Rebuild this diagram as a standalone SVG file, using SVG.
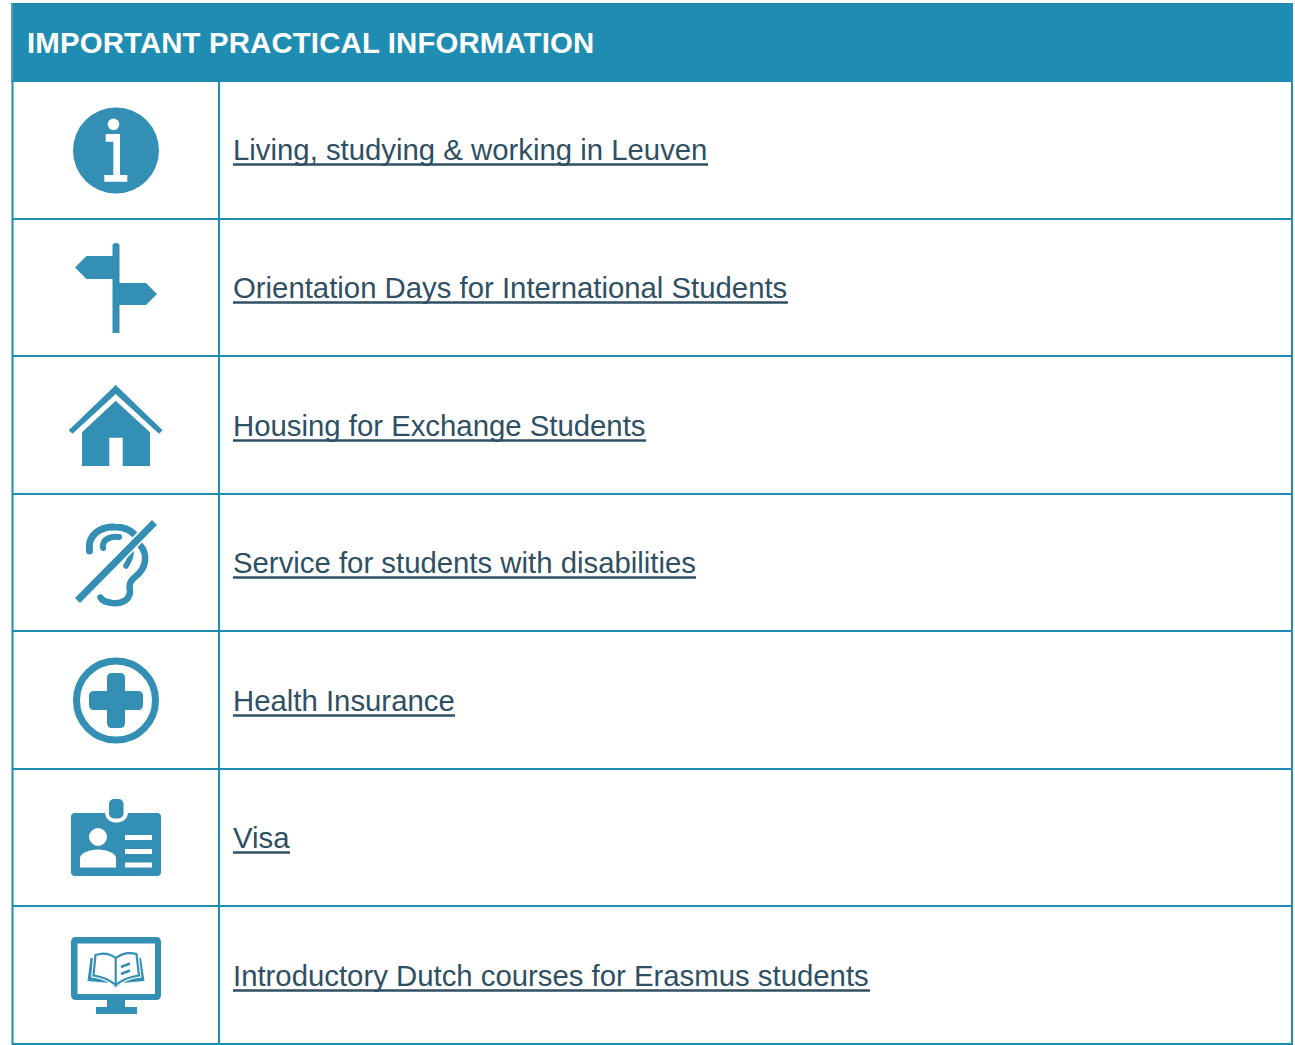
<svg xmlns="http://www.w3.org/2000/svg" width="1295" height="1045" viewBox="0 0 1295 1045">
<style>
.g{stroke:#1f8db2;stroke-width:2;fill:none}
.i{fill:#338fb3}
.w{fill:#fff}
.s{fill:none;stroke:#338fb3;stroke-linecap:round}
.b{fill:none;stroke:#338fb3;stroke-linecap:butt}
.t{font-family:"Liberation Sans",Arial,sans-serif;font-size:29.33px;fill:#2f4f63}
.u{stroke:#2f4f63;stroke-width:2.6}
.h{font-family:"Liberation Sans",Arial,sans-serif;font-size:29.33px;font-weight:bold;fill:#fff;letter-spacing:.17px}
</style>
<rect width="1295" height="1045" fill="#fff"/>
<g id="table">
<rect x="11" y="3" width="1282" height="79" fill="#1f8db2"/>
<rect x="11" y="4" width="2" height="77" fill="#5a9ac8"/>
<path class="g" d="M12.500 81V1044H1292V81M219 81V1044M12 219H1292M12 356H1292M12 494H1292M12 631H1292M12 769H1292M12 906H1292"/>
<text class="h" x="27" y="52.500">IMPORTANT PRACTICAL INFORMATION</text>
</g>
<g id="row-info">
<circle class="i" cx="116" cy="150.500" r="43"/>
<circle class="w" cx="113.500" cy="124.300" r="5.800"/>
<path class="w" d="M105.700 134H120V175H127.300V181.700H104.300V175H113.300V141.700H105.700Z"/>
<text class="t" x="233" y="160">Living, studying &amp; working in Leuven</text>
<path class="u" d="M233 164.500H708"/>
</g>
<g id="row-orientation">
<path class="i" d="M112.500 333V245.500Q112.500 243 116 243Q119.500 243 119.500 245.500V283H146L157 294L146 305H119.500V333ZM112.500 256V279H86.500L75 267.500L86.500 256Z"/>
<text class="t" x="233" y="298">Orientation Days for International Students</text>
<path class="u" d="M233 302.500H788"/>
</g>
<g id="row-housing">
<path class="i" d="M115.700 385L162.700 430.300L159 433.700L115.700 394L72.500 433.700L68.700 430.300Z"/>
<path class="i" d="M115.700 400.700L150 432.300V466H122.700V437.700H109.300V466H82V432.300Z"/>
<text class="t" x="233" y="436">Housing for Exchange Students</text>
<path class="u" d="M233 440.500H646"/>
</g>
<g id="row-disability">
<path class="s" stroke-width="7" d="M89.500 551C87 534 102 526 115 527C124 527 130 530 134 534"/>
<path class="s" stroke-width="6" d="M103 548C102 540 109 536 119 537"/>
<path class="s" stroke-width="5.500" d="M131 550C132 556 129 561 126 566"/>
<path class="s" stroke-width="6.500" d="M140 545C148 554 147 568 135 577C129 582 129 586 130 591C130 600 122 604 112 603C106 602 102 601 100.500 597.500"/>
<path d="M154 523L77.500 600.500" fill="none" stroke="#fff" stroke-width="10.500"/>
<path class="b" stroke-width="7" d="M154.500 522.500L77.500 600.500"/>
<text class="t" x="233" y="573">Service for students with disabilities</text>
<path class="u" d="M233 577.500H696"/>
</g>
<g id="row-health">
<circle cx="116" cy="700.500" r="39.500" fill="none" stroke="#338fb3" stroke-width="7"/>
<path class="i" d="M107 678Q107 673 112 673H120Q125 673 125 678V691H138Q143 691 143 696V705Q143 710 138 710H125V723Q125 728 120 728H112Q107 728 107 723V710H94Q89 710 89 705V696Q89 691 94 691H107Z"/>
<text class="t" x="233" y="711">Health Insurance</text>
<path class="u" d="M233 715.500H455"/>
</g>
<g id="row-visa">
<rect class="i" x="109" y="799" width="14.500" height="19.500" rx="5"/>
<path class="i" d="M75 813H105C106 820 111 822.500 116.500 822.500C122 822.500 127 820 128 813H157Q161 813 161 817V872Q161 876 157 876H75Q71 876 71 872V817Q71 813 75 813Z"/>
<circle class="w" cx="98" cy="837" r="9"/>
<path class="w" d="M80 867.500V858C80 853 90 849.500 98 849.500C106 849.500 116 853 116 858V867.500Z"/>
<path class="w" d="M125 835H152V840H125ZM125 849H152V854H125ZM125 862.500H152V867.500H125Z"/>
<text class="t" x="233" y="848">Visa</text>
<path class="u" d="M233 852.500H290"/>
</g>
<g id="row-dutch">
<path class="i" fill-rule="evenodd" d="M76 937H156Q161 937 161 942V995Q161 1000 156 1000H125V1007H137V1014H96V1007H107V1000H76Q71 1000 71 995V942Q71 937 76 937ZM77.500 943.500V994H155V943.500Z"/>
<path class="i" d="M87.500 981L90.500 958H141L144.500 981L122 983L116 988.500L110 983Z"/>
<path d="M95.500 955Q107 951 115.700 958V985Q106 977 93.500 975.500ZM115.700 958Q125 951 136.500 954L139 975.500Q126 977 115.700 985Z" fill="#fff" stroke="#fff" stroke-width="4.500"/>
<path d="M95.500 955Q107 951 115.700 958V985Q106 977 93.500 975.500ZM115.700 958Q125 951 136.500 954L139 975.500Q126 977 115.700 985Z" fill="#fff" stroke="#338fb3" stroke-width="2.200"/>
<path class="b" stroke-width="2.500" d="M121 967L130 963.500M121 974L130 970.500"/>
<text class="t" x="233" y="986">Introductory Dutch courses for Erasmus students</text>
<path class="u" d="M233 990.500H870"/>
</g>
</svg>
